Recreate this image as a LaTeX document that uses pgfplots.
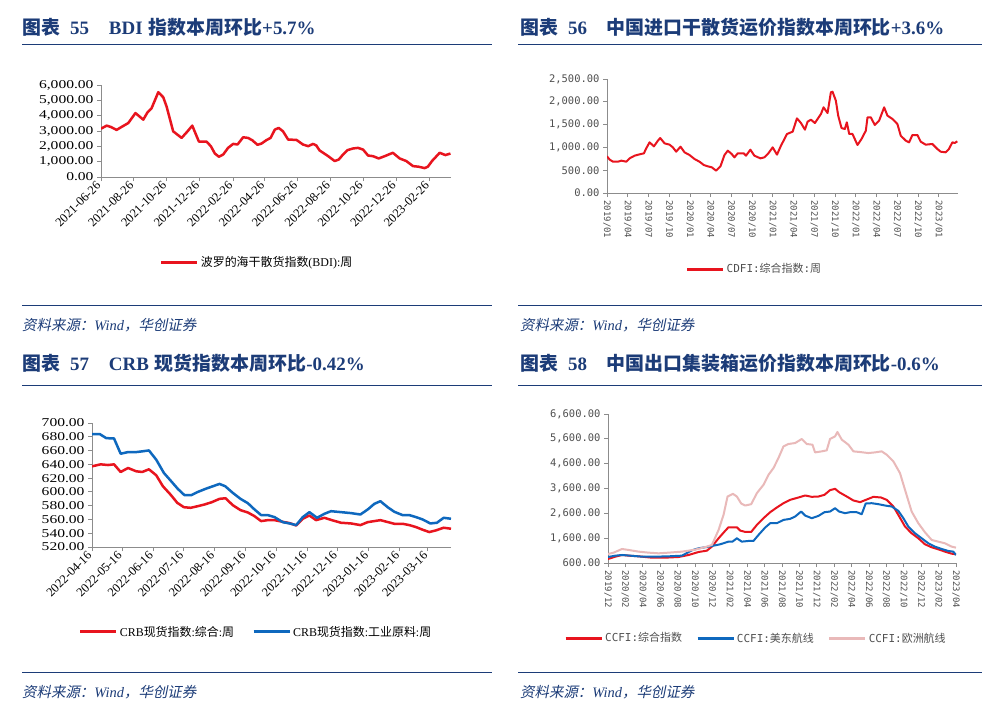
\documentclass[border=0pt]{standalone}
\usepackage{fontspec}
\usepackage{pgfplots}
\pgfplotsset{compat=1.18}
\setmainfont{Liberation Serif}
\newfontfamily\cjk{Noto Sans CJK SC}
\newfontfamily\cjkit[FakeSlant=0.2]{Noto Sans CJK SC}
\newfontfamily\mono{DejaVu Sans Mono}
\newfontfamily\wide[FakeStretch=1.3]{Liberation Serif}

\definecolor{cred}{HTML}{E8141E}
\definecolor{cblue}{HTML}{0E68BE}
\definecolor{cpink}{HTML}{E9B9B9}
\definecolor{hcblue}{HTML}{1C3C78}
\definecolor{axgray}{HTML}{8C8C8C}
\definecolor{txtgray}{HTML}{505050}

\newcommand\fs[1]{\fontsize{#1}{#1}\selectfont}
\newcommand\ttl[1]{{\cjk\bfseries #1}}

\pgfplotsset{
  panel/.style={
    scale only axis, anchor=south west,
    axis x line*=bottom, axis y line*=left,
    axis line style={-, axgray, line width=0.8bp},
    tick style={axgray, line width=0.8bp},
    tick align=outside, major tick length=4bp,
    scaled y ticks=false,
    yticklabel={\pgfmathprintnumber[fixed,fixed zerofill,precision=2,1000 sep={,},assume math mode=true]{\tick}},
    legend style={draw=none, fill=none, anchor=center, legend columns=-1,
      /tikz/every even column/.append style={column sep=12bp}},
    legend image code/.code={\draw[#1, line width=3bp] (0bp,0bp) -- (36bp,0bp);},
  },
  serifpanel/.style={panel,
    yticklabel style={font=\wide\fs{12}, text=black},
    xticklabel style={font=\fs{12.5}, text=black, rotate=45, anchor=east},
  },
  monopanel/.style={panel,
    yticklabel style={font=\mono\fs{10.5}, text=txtgray},
    xticklabel style={font=\mono\fs{9}, text=txtgray, rotate=-90, anchor=west},
  },
}

\begin{document}
\begin{tikzpicture}
\path[use as bounding box, fill=white] (0bp,0bp) rectangle (1002bp,-718bp);

% rules
\foreach \y in {44,305,385,672} {
  \draw[hcblue, line width=1bp] (22bp,-\y bp) -- (492bp,-\y bp);
  \draw[hcblue, line width=1bp] (518bp,-\y bp) -- (982bp,-\y bp);
}

% titles
\node[anchor=base west, inner sep=0pt, text=hcblue, font=\fs{19}] at (22bp,-34bp)
  {\ttl{图表}\hspace{10bp}\textbf{55}\hspace{20bp}\textbf{BDI}\hspace{6bp}\ttl{指数本周环比}\textbf{+5.7\%}};
\node[anchor=base west, inner sep=0pt, text=hcblue, font=\fs{19}] at (520bp,-34bp)
  {\ttl{图表}\hspace{10bp}\textbf{56}\hspace{20bp}\ttl{中国进口干散货运价指数本周环比}\textbf{+3.6\%}};
\node[anchor=base west, inner sep=0pt, text=hcblue, font=\fs{19}] at (22bp,-370bp)
  {\ttl{图表}\hspace{10bp}\textbf{57}\hspace{20bp}\textbf{CRB}\hspace{6bp}\ttl{现货指数本周环比}\textbf{-0.42\%}};
\node[anchor=base west, inner sep=0pt, text=hcblue, font=\fs{19}] at (520bp,-370bp)
  {\ttl{图表}\hspace{10bp}\textbf{58}\hspace{20bp}\ttl{中国出口集装箱运价指数本周环比}\textbf{-0.6\%}};

% sources
\foreach \x/\y in {22/330, 520/330, 22/697, 520/697} {
  \node[anchor=base west, inner sep=0pt, text=hcblue, font=\fs{14.5}] at (\x bp,-\y bp)
    {{\cjkit 资料来源：}\textit{Wind}{\cjkit ，华创证券}};
}

% ---------- 55: BDI ----------
\begin{axis}[serifpanel,
  at={(101bp,-177bp)}, width=350bp, height=92bp,
  xmin=0, xmax=650, ymin=0, ymax=6000,
  ytick={0,1000,...,6000},
  xtick={0,61,122,183,245,304,365,426,487,548,610},
  xticklabels={2021-06-26,2021-08-26,2021-10-26,2021-12-26,2022-02-26,2022-04-26,2022-06-26,2022-08-26,2022-10-26,2022-12-26,2023-02-26},
  legend style={at={(0.446,-0.924)}, font=\fs{12}},
]
\addplot[cred, line width=2.5bp, line join=round] coordinates {
 (0,3150) (10.5,3350) (18.6,3260) (29,3070) (37,3240) (50.7,3520) (64,4170) (78.5,3740)
 (86.6,4230) (94,4490) (106.4,5530) (115.6,5200) (121.8,4600) (134,2980) (149.7,2550)
 (160.8,2980) (169.5,3350) (181.8,2310) (196,2310) (204,2010) (211.5,1530) (219,1320)
 (227,1470) (236,1900) (245.5,2160) (253.6,2120) (264,2590) (273,2550) (280.8,2400)
 (290.7,2100) (298,2180) (307,2400) (315,2550) (322.8,3090) (330,3200) (338,2980)
 (347.6,2440) (363,2420) (375,2120) (384.7,2010) (394,2160) (400,2050) (406,1730)
 (421.8,1360) (434,1040) (441.6,1140) (449.6,1470) (457.6,1750) (468,1860) (477.4,1900)
 (486.7,1790) (496,1400) (505,1360) (515.8,1210) (527,1360) (542,1580) (554.7,1210)
 (567,1040) (579.5,710) (590,670) (601,580) (607,670) (614.7,1040) (629,1580)
 (639.5,1430) (649,1530)
};
\addlegendentry{{\cjk 波罗的海干散货指数}(BDI):{\cjk 周}}
\end{axis}

% ---------- 56: CDFI ----------
\begin{axis}[monopanel,
  at={(607bp,-193bp)}, width=351bp, height=114bp,
  xmin=0, xmax=50.8, ymin=0, ymax=2500,
  ytick={0,500,...,2500},
  xtick={0,3,...,48},
  xticklabels={2019/01,2019/04,2019/07,2019/10,2020/01,2020/04,2020/07,2020/10,2021/01,2021/04,2021/07,2021/10,2022/01,2022/04,2022/07,2022/10,2023/01},
  legend style={at={(0.42,-0.667)}, font=\fs{11}, text=txtgray},
]
\addplot[cred, line width=2bp, line join=round] coordinates {
 (0,804) (0.39,731) (0.87,687) (1.59,687) (2.07,709) (2.79,687) (3.27,760) (4.0,819)
 (4.72,848) (5.34,870) (5.68,980) (6.16,1111) (6.79,1023) (7.37,1148) (7.70,1206)
 (8.33,1089) (9.05,1060) (9.53,1001) (10.01,906) (10.64,1016) (11.22,892) (11.94,833)
 (12.66,746) (13.38,687) (14.01,614) (14.59,585) (15.17,563) (15.79,490) (16.42,585)
 (17.0,833) (17.48,928) (18.05,855) (18.44,782) (18.92,870) (19.79,870) (20.12,819)
 (20.75,950) (21.33,819) (22.2,760) (22.77,782) (23.35,870) (23.98,1001) (24.6,841)
 (25.18,1038) (26.05,1294) (26.87,1345) (27.49,1637) (28.07,1535) (28.65,1389)
 (29.03,1564) (29.51,1608) (30.09,1535) (30.96,1732) (31.34,1879) (31.92,1754)
 (32.4,2208) (32.64,2222) (33.12,2025) (33.46,1696) (33.94,1425) (34.42,1403)
 (34.71,1550) (35.05,1294) (35.53,1294) (36.25,1053) (36.83,1184) (37.46,1367)
 (37.7,1659) (38.18,1659) (38.76,1491) (39.38,1586) (40.11,1879) (40.59,1696)
 (41.31,1623) (42.03,1513) (42.51,1257) (43.24,1148) (43.72,1111) (44.2,1272)
 (44.92,1272) (45.4,1126) (46.12,1060) (47.09,1075) (47.81,965) (48.29,906)
 (49.01,892) (49.49,965) (49.98,1111) (50.31,1096) (50.7,1133)
};
\addlegendentry{\mono CDFI:{\cjk 综合指数}:{\cjk 周}}
\end{axis}

% ---------- 57: CRB ----------
\begin{axis}[serifpanel,
  at={(92bp,-547bp)}, width=359bp, height=124bp,
  xmin=0, xmax=357, ymin=520, ymax=700,
  ytick={520,540,...,700},
  xtick={0,30,61,91,122,153,183,214,244,275,306,334},
  xticklabels={2022-04-16,2022-05-16,2022-06-16,2022-07-16,2022-08-16,2022-09-16,2022-10-16,2022-11-16,2022-12-16,2023-01-16,2023-02-16,2023-03-16},
  legend style={at={(0.457,-0.684)}, font=\fs{12},
    /tikz/every even column/.append style={column sep=16bp}},
]
\addplot[cred, line width=2.5bp, line join=round] coordinates {
 (0,637.1) (8.6,640) (15.9,639) (21.9,640) (28.5,628.9) (35.8,634.7) (44,629.9) (50,628.9)
 (56.6,632.8) (63.9,624.1) (70.5,608.2) (78.1,596.1) (84.8,584.1) (91.4,577.8) (98,576.9)
 (105.3,579.3) (111.9,581.7) (119.2,585.1) (126.8,589.9) (132.8,590.8) (140,580.7)
 (147.7,573.5) (155,570.1) (161.6,564.8) (168.2,557.6) (174.8,559) (181.5,559)
 (189.7,556.6) (196.4,554.7) (203,551.3) (209.6,561) (216.2,565.8) (222.8,559)
 (231.1,562.4) (239.4,558.6) (247.7,555.2) (257.6,554.2) (266.9,551.8) (274.2,556.1)
 (286.8,559) (300.7,553.7) (308.9,553.7) (315.6,551.8) (322.2,548.9) (328.8,545.1)
 (335.4,541.7) (342,544.1) (349.7,548) (357,546.5)
};
\addlegendentry{CRB{\cjk 现货指数}:{\cjk 综合}:{\cjk 周}}
\addplot[cblue, line width=2.5bp, line join=round] coordinates {
 (0,683.9) (7.6,684) (14.2,678) (21.9,677.6) (28.5,655.4) (35.8,657.8) (44,657.8)
 (50.7,659) (56.6,660.2) (63.9,646.7) (71.5,627.5) (78.8,615.4) (85.4,604.3) (92,595.2)
 (98.7,595.2) (105.3,600) (113.6,604.8) (120.2,608.2) (126.8,611.6) (132.5,608.2)
 (140,598.6) (147.7,589.9) (155,583.6) (161.6,574.5) (168.2,566.3) (174.8,566.3)
 (181.5,563.4) (189.7,556.1) (196.4,554.2) (203,551.8) (209.6,563.4) (216.2,570.6)
 (223.8,562.4) (231.1,568.2) (237.7,572) (247.7,570.6) (257.6,569.2) (266.9,567.2)
 (274.2,574.5) (280.8,582.7) (286.8,586.5) (294,577.8) (300.7,571.1) (308.9,566.3)
 (315.6,566.3) (322.2,563.4) (328.8,560) (336.4,554.2) (343,555.2) (349.7,562.4) (357,561)
};
\addlegendentry{CRB{\cjk 现货指数}:{\cjk 工业原料}:{\cjk 周}}
\end{axis}

% ---------- 58: CCFI ----------
\begin{axis}[monopanel,
  at={(608bp,-563bp)}, width=348bp, height=149bp,
  xmin=0, xmax=40, ymin=600, ymax=6600,
  ytick={600,1600,...,6600},
  xtick={0,2,...,40},
  xticklabels={2019/12,2020/02,2020/04,2020/06,2020/08,2020/10,2020/12,2021/02,2021/04,2021/06,2021/08,2021/10,2021/12,2022/02,2022/04,2022/06,2022/08,2022/10,2022/12,2023/02,2023/04},
  legend style={at={(0.425,-0.504)}, font=\fs{11}, text=txtgray},
]
\addplot[cred, line width=2bp, line join=round] coordinates {
 (0,761) (0.84,856) (1.61,923) (2.37,896) (3.52,869) (5.05,815) (6.58,815) (8.11,842)
 (9.26,923) (10.41,1044) (11.37,1098) (11.94,1260) (12.71,1596) (13.39,1865) (13.85,2040)
 (14.31,2040) (14.81,2040) (15.19,1906) (15.77,1852) (16.46,1852) (17.11,2134)
 (17.87,2404) (18.64,2646) (19.4,2834) (20.17,3009) (20.93,3144) (21.89,3238)
 (22.66,3319) (23.42,3265) (24.19,3278) (24.88,3346) (25.52,3534) (26.1,3588)
 (26.56,3454) (27.44,3278) (28.21,3117) (28.97,3050) (29.74,3157) (30.5,3265)
 (31.38,3238) (32.03,3144) (32.8,2875) (33.37,2538) (34.14,2067) (34.9,1798)
 (35.67,1596) (36.43,1354) (37.2,1233) (37.96,1152) (38.73,1058) (39.49,977) (40,950)
};
\addlegendentry{\mono CCFI:{\cjk 综合指数}}
\addplot[cblue, line width=2bp, line join=round] coordinates {
 (0,842) (0.84,896) (1.61,923) (2.56,896) (3.9,856) (5.43,856) (6.97,869) (8.5,896)
 (9.64,1111) (10.41,1192) (11.37,1246) (12.13,1300) (12.9,1354) (13.85,1461) (14.31,1461)
 (14.81,1596) (15.38,1461) (16.15,1488) (16.72,1488) (17.3,1731) (18.06,2027)
 (18.64,2202) (19.4,2202) (20.17,2336) (20.93,2377) (21.51,2471) (22.2,2673)
 (22.66,2511) (23.42,2404) (24.19,2498) (24.88,2646) (25.52,2673) (26.1,2807)
 (26.56,2673) (27.25,2606) (27.82,2646) (28.59,2646) (29.16,2565) (29.62,2996)
 (30.31,3009) (31.08,2969) (31.84,2915) (32.61,2875) (33.37,2700) (33.95,2404)
 (34.52,2067) (35.29,1798) (36.05,1596) (36.82,1394) (37.58,1260) (38.35,1165)
 (39.11,1085) (39.69,1058) (40,923)
};
\addlegendentry{\mono CCFI:{\cjk 美东航线}}
\addplot[cpink, line width=2bp, line join=round] coordinates {
 (0,963) (0.65,1017) (1.61,1165) (2.37,1125) (3.52,1058) (4.67,1017) (5.82,990)
 (6.97,1017) (8.5,1058) (10.03,1138) (11.37,1260) (11.94,1327) (12.71,1932) (13.28,2538)
 (13.74,3278) (14.35,3386) (14.81,3278) (15.31,2996) (15.77,2915) (16.46,2969)
 (17.11,3413) (17.87,3749) (18.45,4153) (19.02,4423) (19.59,4826) (20.17,5297)
 (20.74,5392) (21.51,5432) (22.27,5594) (22.85,5392) (23.5,5365) (23.8,5055)
 (24.57,5096) (25.14,5136) (25.52,5594) (26.1,5701) (26.37,5876) (26.87,5567)
 (27.63,5365) (28.21,5096) (28.97,5069) (29.93,5028) (30.69,5055) (31.46,5096)
 (32.03,4961) (32.8,4692) (33.56,4221) (34.14,3547) (34.9,2673) (35.67,2202)
 (36.43,1838) (37.2,1529) (37.96,1461) (38.73,1394) (39.49,1260) (40,1219)
};
\addlegendentry{\mono CCFI:{\cjk 欧洲航线}}
\end{axis}
\end{tikzpicture}
\end{document}
